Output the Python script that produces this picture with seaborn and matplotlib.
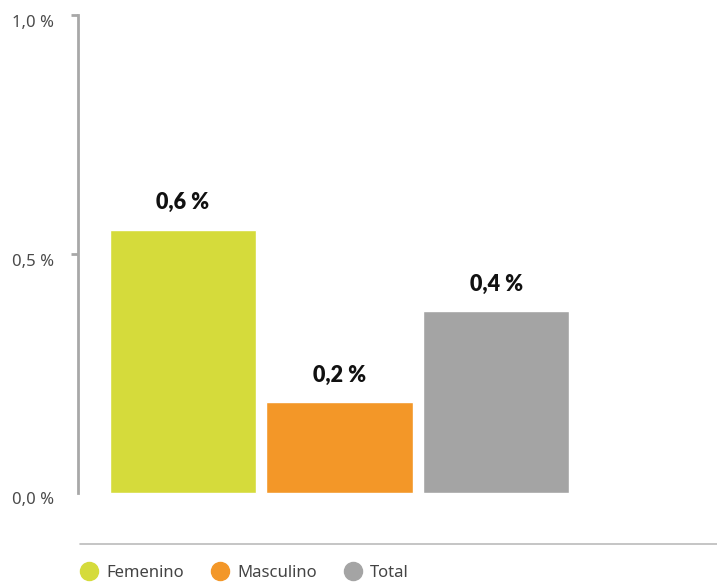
import matplotlib
matplotlib.use("Agg")
import matplotlib.pyplot as plt
from matplotlib.lines import Line2D
from matplotlib.transforms import ScaledTranslation
import seaborn as sns
import pandas as pd

categories = ["Femenino", "Masculino", "Total"]
values = [0.55, 0.19, 0.38]
value_labels = ["0,6 %", "0,2 %", "0,4 %"]
ytick_values = [0.0, 0.5, 1.0]
ytick_labels = ["0,0 %", "0,5 %", "1,0 %"]
colors = ["#D5DB3B", "#F39728", "#A4A4A4"]

sns.set_style("white")
plt.rcParams["font.family"] = ["Noto Sans", "DejaVu Sans"]

df = pd.DataFrame({"cat": categories, "val": values})

fig = plt.figure(figsize=(7.17, 5.88), dpi=100)
W, H = 717, 588
ax = fig.add_axes([78 / W, 1 - 497 / H, (W - 78) / W, (497 - 15) / H])

sns.barplot(data=df, x="cat", y="val", hue="cat", palette=colors,
            width=0.933, legend=False, ax=ax, saturation=1)

ax.set_xlim(-0.67, 3.41)
ax.set_ylim(-0.0085, 1.0)
for s in ["top", "right", "bottom"]:
    ax.spines[s].set_visible(False)
ax.spines["left"].set_bounds(0, 1)
ax.spines["left"].set_color("#A8A8A8")
ax.spines["left"].set_linewidth(2)
ax.set_xticks([])
ax.set_yticks(ytick_values)
ax.set_yticklabels(ytick_labels, fontsize=12, color="#4a4a4a")
ax.tick_params(axis="y", left=True, length=5, width=2, color="#A8A8A8", pad=12)
ax.yaxis.get_major_ticks()[0].tick1line.set_visible(False)
for lbl in ax.get_yticklabels():
    lbl.set_transform(lbl.get_transform() + ScaledTranslation(0, -4 / 72, fig.dpi_scale_trans))
ax.set_xlabel("")
ax.set_ylabel("")

for i, (v, lab) in enumerate(zip(values, value_labels)):
    ax.annotate(lab, (i, v), xytext=(0, 12), textcoords="offset points",
                ha="center", va="bottom", fontsize=15.5, fontweight=800,
                family=["Lato", "DejaVu Sans"], color="#111111")

fig.add_artist(Line2D([80 / W, 1.0], [1 - 544 / H, 1 - 544 / H],
                      color="#BBBBBB", linewidth=1.2))

handles = [Line2D([0], [0], marker="o", linestyle="", markersize=13,
                  markerfacecolor=c, markeredgecolor=c) for c in colors]
fig.legend(handles, categories, loc="center left",
           bbox_to_anchor=(66 / W, 1 - 573 / H), ncol=3, frameon=False,
           fontsize=12, handletextpad=0.5, columnspacing=1.7,
           labelcolor="#444444", handlelength=1.0)

fig.savefig("out.png", dpi=100)
